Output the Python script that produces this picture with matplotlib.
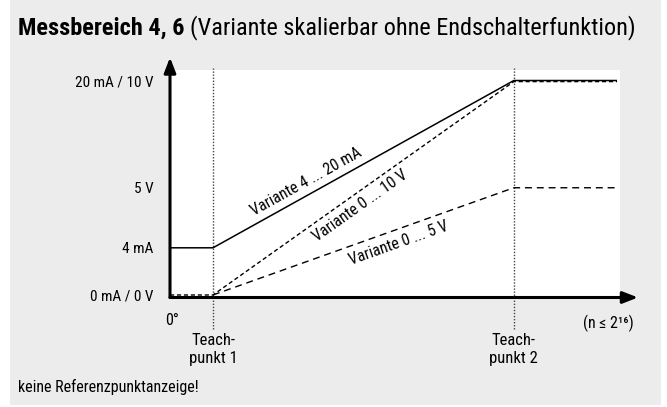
import matplotlib.pyplot as plt
from matplotlib.patches import Rectangle
import numpy as np

plt.rcParams['font.family'] = ['Roboto Condensed', 'Roboto', 'DejaVu Sans']

# Positionen auf der x-Achse (0°, Teachpunkt 1, Teachpunkt 2, Ende)
x_punkte = [0, 1, 8, 10.4]
teach_x = [1, 8]

# Ausgangssignale (Skala: 10 = 20 mA / 10 V)
var_4_20mA = [2.2, 2.2, 10, 10]
var_0_10V = [0, 0, 9.95, 9.95]
var_0_5V_x = [1, 8, 10.4]
var_0_5V = [0, 5, 5]

y_ticks = [0, 2.2, 5, 10]
y_labels = ['0 mA / 0 V', '4 mA', '5 V', '20 mA / 10 V']

W, H = 667, 407
fig = plt.figure(figsize=(W / 100, H / 100), dpi=100, facecolor='white')
fig.patches.append(Rectangle((10 / W, 2 / H), 651 / W, 405 / H, transform=fig.transFigure,
                             facecolor='#ececec', edgecolor='none', zorder=-10))

ax = fig.add_axes([170 / W, (H - 297.5) / H, 450 / W, 227.5 / H])
ax.set_facecolor('white')
ax.set_xlim(0, 10.47)
ax.set_ylim(-0.117, 10.49)
for s in ax.spines.values():
    s.set_visible(False)

ax.plot(x_punkte, var_4_20mA, color='black', lw=1.1, solid_capstyle='butt')
ax.plot(x_punkte, var_0_10V, color='black', lw=1.0, linestyle=(0, (3, 2)))
ax.plot(var_0_5V_x, var_0_5V, color='black', lw=1.0, linestyle=(0, (5, 3.5)))

for tx in teach_x:
    ax.axvline(tx, ymin=-0.14, ymax=1.01, color='#444444', lw=1.0,
               linestyle=(0, (1, 1.2)), clip_on=False, zorder=1)

# Achsen mit Pfeilen
ax.annotate('', xy=(0, 1.055), xytext=(0, 0), xycoords='axes fraction',
            arrowprops=dict(arrowstyle='-|>,head_length=0.9,head_width=0.35',
                            color='black', lw=2.2, shrinkA=0, shrinkB=0))
ax.annotate('', xy=(1.04, 0), xytext=(0, 0), xycoords='axes fraction',
            arrowprops=dict(arrowstyle='-|>,head_length=0.9,head_width=0.35',
                            color='black', lw=2.2, shrinkA=0, shrinkB=0))

ax.set_yticks(y_ticks)
ax.set_yticklabels(y_labels, fontsize=11)
ax.tick_params(axis='y', length=0, pad=12)
ax.set_xticks([])

ax.text(0.05, -0.07, '0°', transform=ax.get_xaxis_transform(), ha='center', va='top', fontsize=11.5)
ax.text(1.03, -0.075, '(n ≤ 2¹⁶)', transform=ax.transAxes, ha='right', va='top', fontsize=11.5)
for i, tx in enumerate(teach_x):
    ax.text(tx, -0.155, f'Teach-\npunkt {i + 1}', transform=ax.get_xaxis_transform(),
            ha='center', va='top', fontsize=12, linespacing=1.3)


def winkel(xs, ys):
    p = ax.transData.transform(np.column_stack([xs, ys]))
    return np.degrees(np.arctan2(p[1, 1] - p[0, 1], p[1, 0] - p[0, 0]))


ax.text(3.18, 5.3, 'Variante 4 ... 20 mA', rotation=winkel(x_punkte[1:3], var_4_20mA[1:3]),
        ha='center', va='center', fontsize=11.5, rotation_mode='anchor')
ax.text(4.42, 4.15, 'Variante 0 ... 10 V', rotation=winkel(x_punkte[1:3], var_0_10V[1:3]),
        ha='center', va='center', fontsize=11.5, rotation_mode='anchor')
ax.text(5.32, 2.42, 'Variante 0 ... 5 V', rotation=winkel(var_0_5V_x[:2], var_0_5V[:2]),
        ha='center', va='center', fontsize=11.5, rotation_mode='anchor')

t1 = fig.text(18 / W, 1 - 28 / H, 'Messbereich 4, 6', fontsize=17.5, fontweight='bold', va='center')
fig.canvas.draw()
bb = t1.get_window_extent()
fig.text((bb.x1 + 6) / W, 1 - 28 / H, '(Variante skalierbar ohne Endschalterfunktion)',
         fontsize=17.5, va='center')
fig.text(18 / W, 1 - 387 / H, 'keine Referenzpunktanzeige!', fontsize=11.5, va='center')

fig.savefig('out.png', dpi=100, facecolor=fig.get_facecolor())
